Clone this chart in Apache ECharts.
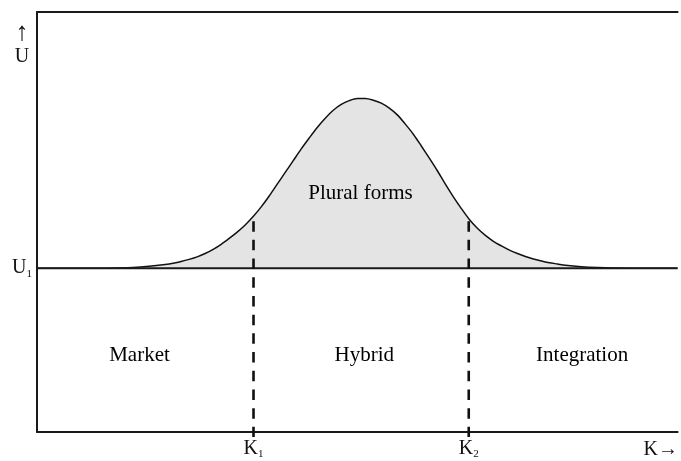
<!DOCTYPE html>
<html><head><meta charset="utf-8">
<script src="https://cdn.jsdelivr.net/npm/echarts@6/dist/echarts.min.js"></script>
<style>html,body{margin:0;padding:0;background:#fff}#c{width:681px;height:461px}</style>
</head><body><div id="c"></div>
<script>
// Bell curve of U over K
const curveK = [0, 5, 10, 12.5, 15, 17.5, 20, 21.25, 22.5, 23.75, 25, 26.25, 27.5, 28.75, 30, 31.25, 32.5, 33.75, 35, 36.25, 37.5, 38.75, 40, 41.25, 42.5, 43.75, 45, 46.25, 47.5, 48.75, 50, 51.25, 52.5, 53.75, 55, 56.25, 57.5, 58.75, 60, 61.25, 62.5, 63.75, 65, 66.25, 67.5, 68.75, 70, 71.25, 72.5, 73.75, 75, 76.25, 77.5, 78.75, 80, 81.25, 82.5, 85, 87.5, 90, 95, 100];
const curveU = [39, 39, 39, 39.05, 39.15, 39.45, 39.9, 40.2, 40.6, 41.1, 41.7, 42.5, 43.5, 44.7, 46.1, 47.6, 49.3, 51.3, 53.6, 56.2, 59.0, 61.8, 64.6, 67.4, 70.0, 72.5, 74.7, 76.6, 78.0, 78.9, 79.4, 79.4, 79.0, 78.3, 77.1, 75.5, 73.3, 70.9, 68.1, 65.2, 62.2, 59.0, 56.0, 53.2, 50.6, 48.5, 46.8, 45.4, 44.3, 43.3, 42.5, 41.8, 41.2, 40.7, 40.3, 40.0, 39.7, 39.35, 39.15, 39.05, 39, 39];
const baselineU = 39;
const kMarks = [33.8, 67.4];
const kMarkSubs = ['1', '2'];
const kMarkTopU = [50.2, 50.2];
const kMarkBottomU = -1.2;
const regionNames = ['Market', 'Hybrid', 'Integration'];
const regionK = [16.0, 51.1, 85.1];
const regionU = [18.1, 18.1, 18.1];
const areaLabel = 'Plural forms';
const areaLabelK = 50.5;
const areaLabelU = 56.9;

const FONT = "'Liberation Serif', 'DejaVu Serif', serif";
const chart = echarts.init(document.getElementById('c'));

const series = [];
series.push({
  type: 'line', data: curveK.map((k, i) => [k, curveU[i]]),
  smooth: 0.3, symbol: 'none', silent: true,
  lineStyle: { color: '#111', width: 1.5 },
  areaStyle: { color: '#e3e4e3', opacity: 1, origin: baselineU },
  z: 2
});
series.push({
  type: 'line', data: [[0, baselineU], [100, baselineU]], symbol: 'none', silent: true,
  lineStyle: { color: '#1a1a1a', width: 2 }, z: 3
});
kMarks.forEach((k, i) => {
  series.push({
    type: 'line', data: [[k, kMarkTopU[i]], [k, kMarkBottomU]], symbol: 'none', silent: true, clip: false,
    lineStyle: { color: '#111', width: 2.6, type: [10.5, 8.2] }, z: 4
  });
});
series.push({
  type: 'scatter', symbolSize: 0, silent: true,
  data: regionNames.map((n, i) => ({ name: n, value: [regionK[i], regionU[i]] }))
    .concat([{ name: areaLabel, value: [areaLabelK, areaLabelU] }]),
  label: { show: true, position: 'inside', formatter: p => p.name, color: '#000', fontSize: 21, fontFamily: FONT },
  itemStyle: { color: '#000', opacity: 1 },
  z: 5
});

chart.setOption({
  animation: false,
  backgroundColor: '#fff',
  grid: { left: 37, top: 12, right: 0, bottom: 29 },
  xAxis: [{
    type: 'value', min: 0, max: 100, position: 'bottom',
    axisLine: { show: true, onZero: false, lineStyle: { color: '#1a1a1a', width: 2 } },
    axisTick: { show: false }, splitLine: { show: false },
    axisLabel: {
      show: true, customValues: kMarks, margin: 6,
      formatter: v => { const i = kMarks.indexOf(v); return '{k|K}{s|' + kMarkSubs[i] + '}'; },
      rich: {
        k: { fontSize: 20, fontFamily: FONT, color: '#111', lineHeight: 22 },
        s: { fontSize: 11, fontFamily: FONT, color: '#111', verticalAlign: 'bottom', lineHeight: 11 }
      }
    },
    name: 'K→', nameLocation: 'end', nameGap: -34,
    nameTextStyle: { fontSize: 20, fontFamily: FONT, color: '#111', align: 'left', verticalAlign: 'top', padding: [8, 0, 0, 0] }
  }, {
    type: 'value', min: 0, max: 100, position: 'top',
    axisLine: { show: true, onZero: false, lineStyle: { color: '#1a1a1a', width: 2 } },
    axisTick: { show: false }, splitLine: { show: false }, axisLabel: { show: false }
  }],
  yAxis: {
    type: 'value', min: 0, max: 100,
    axisLine: { show: true, onZero: false, lineStyle: { color: '#1a1a1a', width: 2 } },
    axisTick: { show: false }, splitLine: { show: false },
    axisLabel: {
      show: true, customValues: [baselineU], margin: 5,
      formatter: () => '{u|U}{s|1}',
      rich: {
        u: { fontSize: 20, fontFamily: FONT, color: '#111', lineHeight: 22 },
        s: { fontSize: 11, fontFamily: FONT, color: '#111', verticalAlign: 'bottom', lineHeight: 11 }
      }
    },
    name: '{a|↑}\n{u|U}', nameLocation: 'end', nameGap: -56,
    nameTextStyle: {
      align: 'center', verticalAlign: 'bottom', padding: [0, 30, 0, 0],
      rich: {
        a: { fontSize: 26, fontFamily: FONT, color: '#111', lineHeight: 26, align: 'center' },
        u: { fontSize: 20, fontFamily: FONT, color: '#111', lineHeight: 22, align: 'center' }
      }
    }
  },
  series: series
});
</script></body></html>
